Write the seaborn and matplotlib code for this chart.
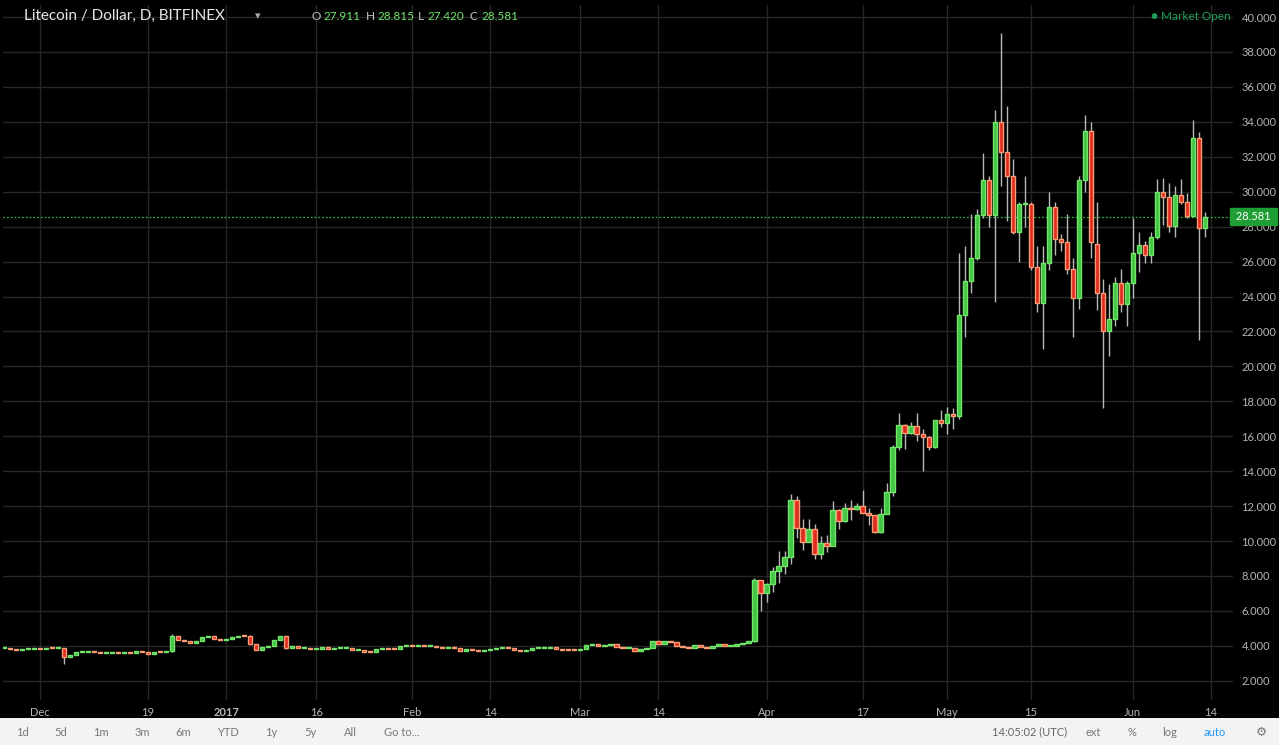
import numpy as np
import pandas as pd
import matplotlib
matplotlib.use("Agg")
import matplotlib.pyplot as plt
import matplotlib.dates as mdates
import seaborn as sns

# ---------------- data ----------------
flat_closes = [3.86,3.84,3.78,3.82,3.82,3.83,3.82,3.86,3.85,3.86,3.39,3.47,3.64,3.66,3.67,3.64,3.60,3.60,3.61,3.60,
               3.61,3.60,3.71,3.64,3.56,3.66,3.62,3.69,4.57,4.36,4.25,4.17,4.30,4.51,4.55,4.41,4.32,4.40,4.53,4.57,
               4.55,4.10,3.77,3.94,3.98,4.34,4.55,3.88,3.98,3.86,3.88,3.84,3.84,3.92,3.84,3.85,3.86,3.86,3.78,3.78,
               3.67,3.62,3.82,3.83,3.82,3.81,4.00,
               4.05,4.00,4.02,3.97,3.98,3.94,3.86,3.92,3.86,3.68,3.81,3.78,3.68,3.77,3.81,3.87,3.89,3.87,3.75,3.73,
               3.78,3.85,3.89,3.90,3.92,3.81,3.77,3.76,3.75,3.83,4.04,4.08,4.00,4.04,4.08,3.96,3.86,3.90,3.73,3.80,
               3.85,4.30,4.13,4.25,4.23,3.98,3.96,3.85,4.04,3.96,3.89,3.98,4.10,4.00,4.00,4.10,4.15,4.25]
flat_wicks = {10: (3.86, 2.97), 28: (4.65, 3.66), 41: (4.62, 4.08), 47: (4.55, 3.80)}

rally_closes = [7.77,7.05,7.54,8.29,8.58,9.09,12.35,10.77,9.97,10.70,9.28,9.89,9.70,11.78,11.17,11.90,11.85,12.00,11.60,11.47,
                10.52,11.55,12.80,15.39,16.65,16.17,16.60,16.15,15.98,15.40,16.93,16.78,17.28,17.15,
                22.94,24.89,26.19,28.67,30.67,28.67,34.00,32.30,30.90,27.70,29.30,29.30,25.70,23.65,25.90,29.10,
                27.30,27.10,25.56,23.90,30.67,33.50,27.10,24.20,22.05,22.70,24.76,23.60,24.76,26.47,26.95,26.35,
                27.39,29.96,29.70,28.06,29.80,29.40,28.60,33.10,27.95,28.581]
rally_opens = {56: 33.45, 57: 27.00, 75: 27.911, 12: 9.87}
rally_highs = [7.87,7.77,7.60,8.53,9.43,9.43,12.70,12.58,11.27,11.27,11.00,10.30,10.35,12.30,11.85,12.20,12.35,12.15,12.90,11.90,
               11.50,11.90,13.30,15.50,17.35,16.70,16.80,17.35,16.40,16.00,16.95,17.50,17.70,17.60,
               26.47,26.90,28.70,29.00,32.20,30.90,34.70,39.07,34.90,31.90,29.40,30.90,29.40,26.90,26.90,30.00,
               29.40,27.60,28.70,26.20,30.90,34.40,34.00,29.40,25.00,24.70,25.10,25.60,24.90,28.50,27.70,27.20,
               27.70,30.70,30.80,30.50,30.30,30.70,29.90,34.10,33.40,28.815]
rally_lows = [4.20,6.02,6.53,7.10,7.58,8.12,8.69,10.20,9.51,9.97,9.00,9.00,9.40,9.70,10.70,11.10,11.20,11.75,11.60,10.92,
              10.45,10.45,12.70,12.60,15.20,15.25,16.15,15.70,14.00,15.20,15.35,16.55,16.15,16.40,
              17.00,21.70,24.20,26.10,28.50,28.00,23.70,30.35,28.30,27.60,26.00,28.00,25.50,23.10,21.00,25.50,
              26.40,26.60,25.30,21.70,23.30,30.00,26.20,23.20,17.60,20.60,22.30,23.10,22.30,23.90,25.40,25.90,
              25.90,27.30,28.10,27.70,27.40,29.30,28.50,28.55,21.50,27.42]

tick_dates = ["2016-12-01","2016-12-19","2017-01-01","2017-01-16","2017-02-01","2017-02-14","2017-03-01",
              "2017-03-14","2017-04-01","2017-04-17","2017-05-01","2017-05-15","2017-06-01","2017-06-14"]
tick_labels = ["Dec","19","2017","16","Feb","14","Mar","14","Apr","17","May","15","Jun","14"]
price_ticks = list(range(2, 41, 2))
last_price = 28.581

# ---------------- assemble OHLC ----------------
closes = flat_closes + rally_closes
n = len(closes)
opens = [3.85] + closes[:-1]
nf = len(flat_closes)
for k, v in rally_opens.items():
    opens[nf + k] = v
highs, lows = [], []
for i in range(n):
    if i < nf:
        h, l = flat_wicks.get(i, (max(opens[i], closes[i]), min(opens[i], closes[i])))
    else:
        h, l = rally_highs[i - nf], rally_lows[i - nf]
    highs.append(max(h, opens[i], closes[i]))
    lows.append(min(l, opens[i], closes[i]))
dates = pd.date_range("2016-11-25", periods=n, freq="D")
df = pd.DataFrame({"date": dates, "open": opens, "high": highs, "low": lows, "close": closes})
df["x"] = mdates.date2num(df["date"])
df["up"] = df["close"] >= df["open"]

# ---------------- plot ----------------
sns.set_theme(style="dark")
plt.rcParams["font.family"] = ["Lato", "DejaVu Sans"]
W, H = 1279, 745
fig = plt.figure(figsize=(W / 100, H / 100), dpi=100, facecolor="#000000")
ax = fig.add_axes([3 / W, 45 / H, 1230 / W, 695 / H])
ax.set_facecolor("#000000")

x0 = mdates.date2num(pd.Timestamp("2016-11-25"))
ax.set_xlim(x0 - 0.17, x0 + 204.7)
ax.set_ylim(0.9, 40.69)

tx = mdates.date2num(pd.to_datetime(tick_dates))
for t in tx:
    ax.axvline(t, color="#262626", lw=1, zorder=0)
for p in price_ticks:
    ax.axhline(p, color="#262626", lw=1, zorder=0)

sns.lineplot(x=[x0 - 1, x0 + 210], y=[last_price, last_price], ax=ax, color="#2fb344",
             lw=0.9, linestyle=(0, (1.5, 1.5)), zorder=1)

up_body, up_edge = "#44c445", "#71e66b"
dn_body, dn_edge = "#dd2c1f", "#fb9d74"
wick_c = "#b8b8b8"
ax.vlines(df["x"], df["low"], df["high"], color=wick_c, lw=1, zorder=2)
for up, fc, ec in [(True, up_body, up_edge), (False, dn_body, dn_edge)]:
    d = df[df["up"] == up]
    bottom = np.minimum(d["open"], d["close"])
    height = np.maximum(np.abs(d["close"] - d["open"]), 0.06)
    ax.bar(d["x"], height, bottom=bottom, width=0.7, color=fc, edgecolor=ec, linewidth=1.0, zorder=3)

for s in ax.spines.values():
    s.set_visible(False)
ax.set_xticks(tx)
ax.set_xticklabels(tick_labels, color="#b5b5b5", fontsize=8)
ax.get_xticklabels()[2].set_fontweight("bold")
ax.tick_params(axis="x", length=0, pad=5)
ax.set_yticks(price_ticks)
ax.yaxis.tick_right()
ax.set_yticklabels([f"{p:.3f}" for p in price_ticks], color="#b5b5b5", fontsize=8)
ax.tick_params(axis="y", length=0, pad=6)
ax.set_xlabel("")
ax.set_ylabel("")

# price label
ax.text(1.0, last_price, f" {last_price:.3f} ", transform=ax.get_yaxis_transform(), ha="left", va="center",
        fontsize=8, color="white", bbox=dict(boxstyle="square,pad=0.3", fc="#1f9e36", ec="#1f9e36"),
        clip_on=False)

# header
fig.text(24 / W, 1 - 16 / H, "Litecoin / Dollar, D, BITFINEX", color="#e6e6e6", fontsize=11, va="center")
fig.text(255 / W, 1 - 16 / H, "▾", color="#aaaaaa", fontsize=8, va="center")
vals = [("O", 311), ("27.911", 323), ("H", 366), ("28.815", 377), ("L", 418), ("27.420", 428), ("C", 470), ("28.581", 481)]
for t, px in vals:
    fig.text(px / W, 1 - 16 / H, t, color="#c8c8c8" if len(t) == 1 else "#6fe36a", fontsize=8.5, va="center")
fig.text(1231 / W, 1 - 16 / H, "● Market Open", color="#1f9e5a", fontsize=8.5, va="center", ha="right")

# bottom toolbar
fig.patches.append(plt.Rectangle((0, 0), 1, 27 / H, transform=fig.transFigure, fc="#f2f3f5", ec="none"))
items = [("1d", 22), ("5d", 61), ("1m", 101), ("3m", 142), ("6m", 183), ("YTD", 228), ("1y", 271), ("5y", 310),
         ("All", 350), ("Go to...", 402)]
for t, px in items:
    fig.text(px / W, 13 / H, t, color="#777777", fontsize=8, ha="center", va="center")
for t, px, c in [("14:05:02 (UTC)", 1030, "#666666"), ("ext", 1093, "#777777"), ("%", 1132, "#777777"),
                 ("log", 1170, "#777777"), ("auto", 1215, "#2196f3")]:
    fig.text(px / W, 13 / H, t, color=c, fontsize=8, ha="center", va="center")
fig.text(1261 / W, 13 / H, "⚙", color="#777777", fontsize=9, ha="center", va="center")

fig.savefig("out.png", dpi=100, facecolor=fig.get_facecolor())
